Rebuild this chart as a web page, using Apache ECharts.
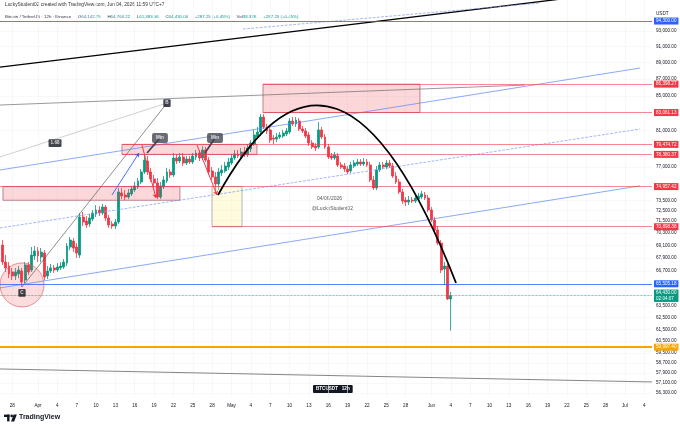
<!DOCTYPE html>
<html><head><meta charset="utf-8">
<script src="https://cdn.jsdelivr.net/npm/echarts@6/dist/echarts.min.js"></script>
<style>html,body{margin:0;padding:0;background:#fff}#c{width:680px;height:428px}</style>
</head><body><div id="c"></div>
<script>
// ---- time: days counted from Apr 1 2026; 12h candles ----
const candleFirstDay = -5.5;   // Mar 26, 12:00
const candleStep = 0.5;        // 12 hours
const xMin = -5.89, xMax = 95.19;

const opens = [
69120,67510,67140,66590,66220,66400,66680,65850,67240,66770,
68080,68550,67980,68360,66220,66680,66960,66770,66960,67050,
67420,68930,69500,68930,68170,71860,71460,71170,71660,72160,
72560,72260,72860,71760,71170,70970,71360,74300,74090,73880,
74200,74610,74920,75440,76490,77660,76490,75760,75340,73880,
74920,75550,76490,76180,77990,77660,78100,77450,77880,77560,
78100,78530,77990,78860,77770,76600,75970,75230,76390,76600,
77020,77450,77990,78420,78210,78640,78320,78970,79510,80290,
80850,82550,81420,81080,80180,80060,80290,80400,80630,80850,
82090,81750,82090,81190,80970,80520,79620,79300,79190,81080,
80290,79190,78210,77990,78210,77240,77130,76810,76600,77130,
77340,77560,77340,77560,77240,75650,74820,76700,77240,77020,
77450,77130,76070,75440,74400,73570,73370,73570,73470,73670,
73880,74090,73780,72560,71560,70580,69310,66860,67140,64142.75];
const closes = [
67510,66960,66400,66220,66590,66770,65670,67240,66590,68170,
68550,68080,68450,66130,66680,66960,66770,67050,67140,67510,
69020,69600,68830,68360,71860,71360,71070,71760,72260,72560,
72260,72860,71760,71070,70970,71360,74400,73990,73880,74300,
74710,75030,75550,76490,77770,76490,75760,75340,73880,75030,
75650,76490,76180,77990,77660,78100,77450,77880,77560,78210,
78530,77990,78860,77770,76490,75970,75230,76490,76700,77130,
77560,77990,78420,78210,78640,78320,79080,79620,80520,80850,
82550,81420,80970,79950,80060,80290,80520,80740,80970,82090,
81750,82200,81190,80970,80400,79620,79190,79080,81080,80290,
79190,78100,77990,78320,77240,77020,76810,76490,77240,77450,
77560,77340,77560,77240,75650,74820,76700,77240,77020,77450,
77130,76070,75440,74400,73470,73370,73570,73470,73780,73990,
74200,73780,72560,71560,70580,69310,66770,67140,64142.75,64430];
const lows = [
67240,66590,66030,65850,65850,66030,65220,65580,66310,66590,
67700,67510,67510,65850,65940,66490,66490,66590,66770,66860,
67140,68640,68450,67890,67890,70970,70780,70870,71460,71860,
71960,72060,71460,70780,70680,70680,71170,73670,73570,73670,
73990,74400,74710,75230,76280,76180,75440,75030,73670,73670,
74710,75340,75860,75970,77340,77450,77130,77240,77340,77340,
77770,77660,77770,77560,76180,75650,74400,74610,76070,76390,
76700,77240,77770,77990,77990,78100,78100,78640,79300,80180,
80630,81190,80630,79620,79510,79730,80060,80180,80400,80630,
81530,81420,80970,80740,80180,79300,78970,78750,78970,80060,
78970,77880,77770,77770,77020,76810,76490,76280,76390,76910,
77130,77130,77130,77020,75440,74610,74610,76490,76810,76810,
76910,75860,75230,74200,73170,72960,73060,73270,73270,73470,
73670,73570,72360,71360,70380,69120,66490,65400,64050,61383.56];
const highs = [
69600,68170,67510,66960,66960,67140,66960,67510,67510,68930,
69020,68930,68830,68640,67140,67330,67240,67420,67510,67790,
69310,69890,69790,69310,72260,72360,71960,72160,72560,73060,
72960,73170,73060,72060,71460,71660,74820,74820,74610,74710,
75030,75440,75860,76810,78320,78210,76910,76180,75860,75440,
76070,76910,76810,78530,78420,78530,78530,78210,78210,78530,
78860,78860,79300,79190,78100,77020,76490,76910,77240,77560,
77990,78420,78860,78860,79080,79190,79510,79950,81080,81420,
82900,82900,81750,81420,80520,80740,80850,81080,81300,82430,
82550,82550,82430,81530,81300,80850,79950,79620,81980,81420,
80630,79510,78530,78640,78530,77560,77450,77130,77560,77770,
77880,77880,77990,77880,77560,76070,77130,77560,77560,77770,
77770,77450,76490,75760,74710,73880,73990,73880,74090,74300,
74510,74400,74090,72860,71860,70970,69600,67510,67330,64764.22];

// ---- axis ticks ----
const dateTickDays = [-4,0,3,6,9,12,15,18,21,24,27,30,33,36,39,42,45,48,51,54,57,61,64,67,70,73,76,79,82,85,88,91,94];
const dateTickLabels = ['28','Apr','4','7','10','13','16','19','22','25','28','May','4','7','10','13','16','19','22','25','28','Jun','4','7','10','13','16','19','22','25','28','Jul','4'];
const priceTicks = [93000,91000,89000,87000,85000,81000,77000,73500,72500,71500,70300,69100,67900,66700,63500,62500,61500,60500,59500,58700,57900,57100,56300];

// ---- horizontal levels ----
const levelPrices = [94300, 86398.27, 83061.13, 79474.72, 78380.37, 74957.42, 70898.38, 65505.18, 59997.40];
const levelFrom   = [xMin, 34.88, 34.88, 13.02, 13.02, xMin, 26.98, xMin, xMin];
const levelKinds  = ['blue','red','red','red','red','red','red','blue','orange'];
const lastPrice = 64430.00, countdown = '02:04:07';

// ---- drawings in (day, price) ----
const zoneBoxes = [[34.88, 86398.27, 59.22, 83061.13],[13.02, 79474.72, 33.95, 78380.37],[-5.43, 74957.42, 22.0, 73550]];
const yellowBox = [[26.98, 74957.42, 31.63, 70898.38]];
const blackTopLine = [[-5.89, 88470],[87.13, 97860]];
const grayUpperLine = [[-5.89, 83930],[75.5, 86290]];
const lineCB = [[-2.48, 65215],[20.0, 84165]];
const line168 = [[-5.89, 78095],[20.0, 84165]];
const blueUpper = [[-5.89, 76700],[93.33, 88350]];
const blueMidDashed = [[-5.89, 70780],[93.33, 81185]];
const blueLower = [[-5.89, 65130],[93.33, 75030]];
const blueTopDashed = [[31.78, 93260],[77.83, 96680]];
const grayBottomLine = [[-5.89, 58208],[95.19, 57169]];
const arcStart = [27.91, 74090], arcControl = [46.36, 99950], arcEnd = [64.81, 65580];
const redArrows = [[[16.12, 79410],[18.29, 73780]], [[24.65, 79410],[27.75, 74090]]];
const blueArrow = [[[11.47, 74090],[15.66, 78530]]];
const minCallouts = [[18.91, 80180],[27.44, 80180]];
const minTails = [[[18.91, 80180],[16.9, 78530]], [[27.44, 80180],[25.89, 78530]]];
const circleC = [-2.48, 65400];
const tagLabels = [{name:'B', value:[20.0, 84165]},{name:'C', value:[-2.48, 64680]},{name:'1.68', value:[2.64, 79620]}];

const UP = '#089981', DOWN = '#F23645';
const kindColor = {red:'#F23645', blue:'#2962FF', orange:'#F7A600'};
const fmt = v => { const s = Number(v).toFixed(2); const [a,b] = s.split('.'); return a.replace(/\B(?=(\d{3})+(?!\d))/g, ',') + '.' + b; };
const F = 'Liberation Sans, Arial, sans-serif';

const candleData = opens.map((o,i) => [candleFirstDay + i*candleStep, o, closes[i], lows[i], highs[i]]);

function lineSeries(pts, color, width, type, z) {
  return {type:'line', data: pts, showSymbol:false, symbol:'none', silent:true, clip:true, z: z||4,
    lineStyle:{color, width, type: type||'solid'}};
}

const levelMarks = levelPrices.map((p,i) => {
  const c = kindColor[levelKinds[i]];
  return [{coord:[levelFrom[i], p],
    lineStyle:{color: levelKinds[i]==='red' ? 'rgba(242,54,69,0.75)' : c, width: levelKinds[i]==='orange' ? 1.8 : 0.8, type:'solid'},
    label:{show:true, position:'end', distance:2, formatter: fmt(p), backgroundColor:c, color:'#fff',
      fontSize:4.6, fontFamily:F, padding:[1,2], lineHeight:5}},
    {coord:[xMax, p]}];
});
levelMarks.push([{coord:[xMin, lastPrice], lineStyle:{color:UP, width:0.7, type:'dotted'},
  label:{show:true, position:'end', distance:2, formatter: fmt(lastPrice)+'\n'+countdown, backgroundColor:UP, color:'#fff',
    fontSize:4.6, fontFamily:F, padding:[1,2], lineHeight:5.2}}, {coord:[xMax, lastPrice]}]);

const chart = echarts.init(document.getElementById('c'), null, {renderer:'canvas'});
chart.setOption({
  animation:false,
  backgroundColor:'#fff',
  grid:{left:0, right:28, top:0, bottom:30, containLabel:false},
  xAxis:{type:'value', min:xMin, max:xMax,
    axisLine:{show:false}, axisTick:{show:false, customValues:dateTickDays},
    axisLabel:{customValues:dateTickDays, fontSize:4.6, fontFamily:F, color:'#131722', margin:5,
      formatter: v => { const k = dateTickDays.indexOf(Math.round(v)); return k>=0 ? dateTickLabels[k] : ''; }},
    splitLine:{show:true, lineStyle:{color:'#f0f3fa', width:0.6}}},
  yAxis:{type:'log', logBase:10, min:55912, max:97090, position:'right',
    axisLine:{show:false}, axisTick:{show:false, customValues:priceTicks},
    axisLabel:{customValues:priceTicks, fontSize:4.6, fontFamily:F, color:'#131722', margin:4, formatter: v => fmt(v)},
    splitLine:{show:true, lineStyle:{color:'#f0f3fa', width:0.6}}},
  graphic:[
    {type:'text', left:5, top:2, style:{text:'LuckyStudent02 created with TradingView.com, Jun 04, 2026 11:59 UTC+7', font:'4.8px '+F, fill:'#333'}},
    {type:'text', left:5, top:11, style:{text:'{t|Bitcoin / TetherUS · 12h · Binance}  {k|O}{v|64,142.75}  {k|H}{v|64,764.22}  {k|L}{v|61,383.56}  {k|C}{v|64,430.00}  {v|+287.25 (+0.45%)}  {k|Vol}{v|38.32K}  {v|+287.25 (+0.45%)}',
      rich:{t:{fontSize:4.4, fontFamily:F, fill:'#333'}, k:{fontSize:4.4, fontFamily:F, fill:'#333'}, v:{fontSize:4.4, fontFamily:F, fill:UP}}}},
    {type:'text', left:656, top:11, style:{text:'USDT', font:'4.6px '+F, fill:'#131722'}},
    {type:'text', left:317, top:196, style:{text:'04/06/2026', font:'5px '+F, fill:'#555'}},
    {type:'text', left:312, top:206, style:{text:'@LuckyStudent02', font:'5px '+F, fill:'#555'}},
    {type:'text', left:313, top:385, style:{text:'BTCUSDT   12h', font:'bold 4.6px '+F, fill:'#fff', backgroundColor:'#131722', padding:[1.5,3], borderRadius:1}},
    {type:'group', left:4, top:414, children:[
      {type:'rect', shape:{x:0, y:0, width:5.5, height:2.4}, style:{fill:'#131722'}},
      {type:'rect', shape:{x:3.1, y:0, width:2.4, height:6.8}, style:{fill:'#131722'}},
      {type:'circle', shape:{cx:7.7, cy:1.3, r:1.3}, style:{fill:'#131722'}},
      {type:'polygon', shape:{points:[[9.6,0],[12.8,0],[10.2,6.8],[7.0,6.8]]}, style:{fill:'#131722'}},
      {type:'text', x:15, y:-0.6, style:{text:'TradingView', font:'600 7px '+F, fill:'#131722'}}
    ]}
  ],
  series:[
    {type:'candlestick', data:candleData, encode:{x:0, y:[1,2,3,4]}, barWidth:2.4, z:2, silent:true,
      itemStyle:{color:UP, color0:DOWN, borderColor:UP, borderColor0:DOWN, borderWidth:0.8},
      markLine:{silent:true, symbol:['none','none'], animation:false, data:levelMarks}},
    {type:'custom', data:zoneBoxes, z:3, silent:true, clip:true,
      renderItem:(params, api) => {
        const a = api.coord([api.value(0), api.value(1)]), b = api.coord([api.value(2), api.value(3)]);
        return {type:'rect', shape:{x:a[0], y:a[1], width:b[0]-a[0], height:b[1]-a[1]},
          style:{fill:'rgba(242,54,69,0.2)', stroke:'rgba(160,70,80,0.8)', lineWidth:0.8}};
      }},
    {type:'custom', data:yellowBox, z:3, silent:true, clip:true,
      renderItem:(params, api) => {
        const a = api.coord([api.value(0), api.value(1)]), b = api.coord([api.value(2), api.value(3)]);
        return {type:'rect', shape:{x:a[0], y:a[1], width:b[0]-a[0], height:b[1]-a[1]},
          style:{fill:'rgba(255,241,150,0.3)', stroke:'#9a9a9a', lineWidth:0.7}};
      }},
    lineSeries(blackTopLine, '#000', 1.3),
    lineSeries(grayUpperLine, '#555', 0.6),
    lineSeries(lineCB, '#444', 0.6),
    lineSeries(line168, '#b0b0b0', 0.6),
    lineSeries(blueUpper, '#5b82f0', 0.7),
    lineSeries(blueMidDashed, '#7d98ee', 0.7, 'dashed'),
    lineSeries(blueLower, '#5b82f0', 0.7),
    lineSeries(blueTopDashed, '#7d98ee', 0.7, 'dashed'),
    lineSeries(grayBottomLine, '#666', 0.8),
    {type:'custom', data:[arcStart], z:5, silent:true,
      renderItem:(params, api) => {
        const a = api.coord(arcStart), c = api.coord(arcControl), b = api.coord(arcEnd);
        return {type:'bezierCurve', shape:{x1:a[0], y1:a[1], x2:b[0], y2:b[1], cpx1:c[0], cpy1:c[1]},
          style:{stroke:'#000', lineWidth:1.8, fill:null}};
      }},
    {type:'lines', coordinateSystem:'cartesian2d', z:5, silent:true, symbol:['none','arrow'], symbolSize:4,
      data: redArrows.map(c => ({coords:c})), lineStyle:{color:DOWN, width:1, opacity:1}},
    {type:'lines', coordinateSystem:'cartesian2d', z:5, silent:true, symbol:['none','arrow'], symbolSize:4,
      data: blueArrow.map(c => ({coords:c})), lineStyle:{color:'#2962FF', width:0.9, opacity:1}},
    {type:'lines', coordinateSystem:'cartesian2d', z:5, silent:true, symbol:['none','none'],
      data: minTails.map(c => ({coords:c})), lineStyle:{color:'#434651', width:1.8, opacity:1}},
    {type:'scatter', data:[circleC], symbol:'circle', symbolSize:44, z:3, silent:true,
      itemStyle:{color:'rgba(242,54,69,0.22)', borderColor:'#e05560', borderWidth:0.8}},
    {type:'scatter', data:minCallouts.map(v => ({value:v, name:'Min'})), symbolSize:2, z:6, silent:true,
      itemStyle:{color:'rgba(0,0,0,0)'}, labelLayout:{hideOverlap:false},
      label:{show:true, position:'inside', formatter:'{b}', color:'#fff', fontSize:4.6, fontFamily:F, fontWeight:'bold',
        backgroundColor:'#434651', padding:[2.6,4], borderRadius:2}},
    {type:'scatter', data:tagLabels, symbolSize:2, z:6, silent:true, itemStyle:{color:'rgba(0,0,0,0)'},
      labelLayout:{hideOverlap:false},
      label:{show:true, position:'inside', formatter:'{b}', color:'#fff', fontSize:4.6, fontFamily:F, fontWeight:'bold',
        backgroundColor:'#131722', padding:[1.4,2], borderRadius:1}}
  ]
});
</script></body></html>
